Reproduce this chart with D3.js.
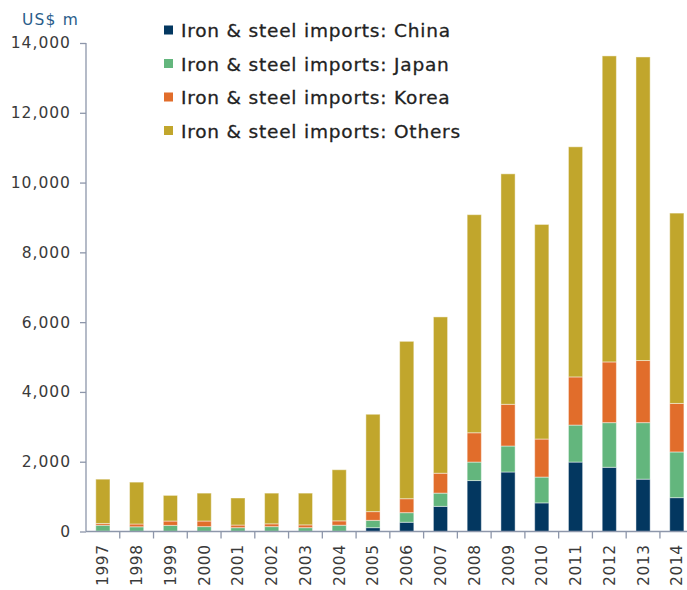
<!DOCTYPE html>
<html lang="en">
<head>
<meta charset="UTF-8">
<script src="https://d3js.org/d3.v7.min.js"></script>
<style>
  body { margin: 0; background: #fff; font-family: 'DejaVu Sans', sans-serif; }
  svg { display: block; }
</style>
</head>
<body>
<div id="wrapper"></div>
<script>
const years = ["1997","1998","1999","2000","2001","2002","2003","2004","2005",
               "2006","2007","2008","2009","2010","2011","2012","2013","2014"];
const china  = [10, 5, 5, 5, 5, 5, 5, 5, 110, 265, 720, 1460, 1705, 820, 1990, 1840, 1500, 970];
const japan  = [170, 130, 170, 135, 105, 135, 105, 175, 210, 275, 380, 530, 745, 740, 1060, 1280, 1620, 1310];
const korea  = [50, 80, 125, 160, 75, 80, 80, 125, 250, 400, 570, 840, 1195, 1090, 1380, 1740, 1780, 1390];
const others = [1270, 1200, 735, 800, 775, 880, 910, 1465, 2790, 4510, 4480, 6250, 6605, 6150, 6595, 8770, 8700, 5455];
const seriesNames = ["Iron & steel imports: China", "Iron & steel imports: Japan",
                     "Iron & steel imports: Korea", "Iron & steel imports: Others"];
const colors = ["#033760", "#63b67d", "#e16d2b", "#c1a62c"];
const yTicks = [0, 2000, 4000, 6000, 8000, 10000, 12000, 14000];

const width = 687, height = 590;
const svg = d3.select("#wrapper").append("svg")
  .attr("width", width).attr("height", height);

const rows = years.map((y, i) => ({year: y, c0: china[i], c1: japan[i], c2: korea[i], c3: others[i]}));
const stack = d3.stack().keys(["c0", "c1", "c2", "c3"])(rows);

const x = d3.scaleBand().domain(years).range([86, 693.7]).paddingInner(0.58).paddingOuter(0.29);
const y = d3.scaleLinear().domain([0, 14000]).range([531.5, 43]);
const step = x.step();

// bars
svg.append("g").selectAll("g")
  .data(stack)
  .join("g")
    .attr("fill", (d, i) => colors[i])
  .selectAll("rect")
  .data(d => d)
  .join("rect")
    .attr("x", d => x(d.data.year))
    .attr("width", x.bandwidth())
    .attr("y", d => y(d[1]))
    .attr("height", d => y(d[0]) - y(d[1]))
    .attr("stroke", "rgba(255,255,255,0.45)")
    .attr("stroke-width", 1);

// y axis
const yAxis = svg.append("g")
  .attr("transform", "translate(86,0)")
  .call(d3.axisLeft(y).tickValues(yTicks).tickSize(6).tickPadding(9).tickFormat(d3.format(",")));
yAxis.select(".domain").attr("stroke", "#8d96aa").attr("stroke-width", 1.3).attr("d", "M0," + y(14000) + "V" + y(0));
yAxis.selectAll(".tick line").attr("stroke", "#8d96aa").attr("stroke-width", 1.3);
yAxis.selectAll(".tick text").attr("fill", "#3a3a3a").style("font-size", "15.5px")
  .style("font-family", "'DejaVu Sans', sans-serif").style("letter-spacing", "1px");

// x axis
const xAxis = svg.append("g")
  .attr("transform", "translate(0," + y(0) + ")");
xAxis.append("line").attr("x1", 86).attr("x2", width).attr("stroke", "#8d96aa").attr("stroke-width", 1.3);
xAxis.selectAll(".xt")
  .data(years)
  .join("line")
    .attr("class", "xt")
    .attr("x1", d => x(d) + x.bandwidth() + step * 0.29)
    .attr("x2", d => x(d) + x.bandwidth() + step * 0.29)
    .attr("y1", 0).attr("y2", 7)
    .attr("stroke", "#8d96aa").attr("stroke-width", 1.3);
xAxis.selectAll(".xl")
  .data(years)
  .join("text")
    .attr("class", "xl")
    .attr("transform", d => "translate(" + (x(d) + x.bandwidth() / 2 + 5.5) + ",13) rotate(-90)")
    .attr("text-anchor", "end")
    .attr("fill", "#3a3a3a")
    .style("font-size", "15.5px")
    .style("letter-spacing", "0.5px")
    .text(d => d);

// unit label
svg.append("text")
  .attr("x", 22).attr("y", 25)
  .attr("fill", "#2a5d8a")
  .style("font-size", "15.5px")
  .style("letter-spacing", "1.2px")
  .text("US$ m");

// legend
const legend = svg.append("g").selectAll("g")
  .data(seriesNames)
  .join("g")
    .attr("transform", (d, i) => "translate(164," + (30 + i * 33.5) + ")");
legend.append("rect")
  .attr("x", 0).attr("y", -4.5).attr("width", 9).attr("height", 9)
  .attr("fill", (d, i) => colors[i]);
legend.append("text")
  .attr("x", 17).attr("y", 7)
  .attr("fill", "#222")
  .attr("stroke", "#222")
  .attr("stroke-width", 0.3)
  .style("font-size", "18.5px")
  .style("letter-spacing", "0.8px")
  .text(d => d);
</script>
</body>
</html>
